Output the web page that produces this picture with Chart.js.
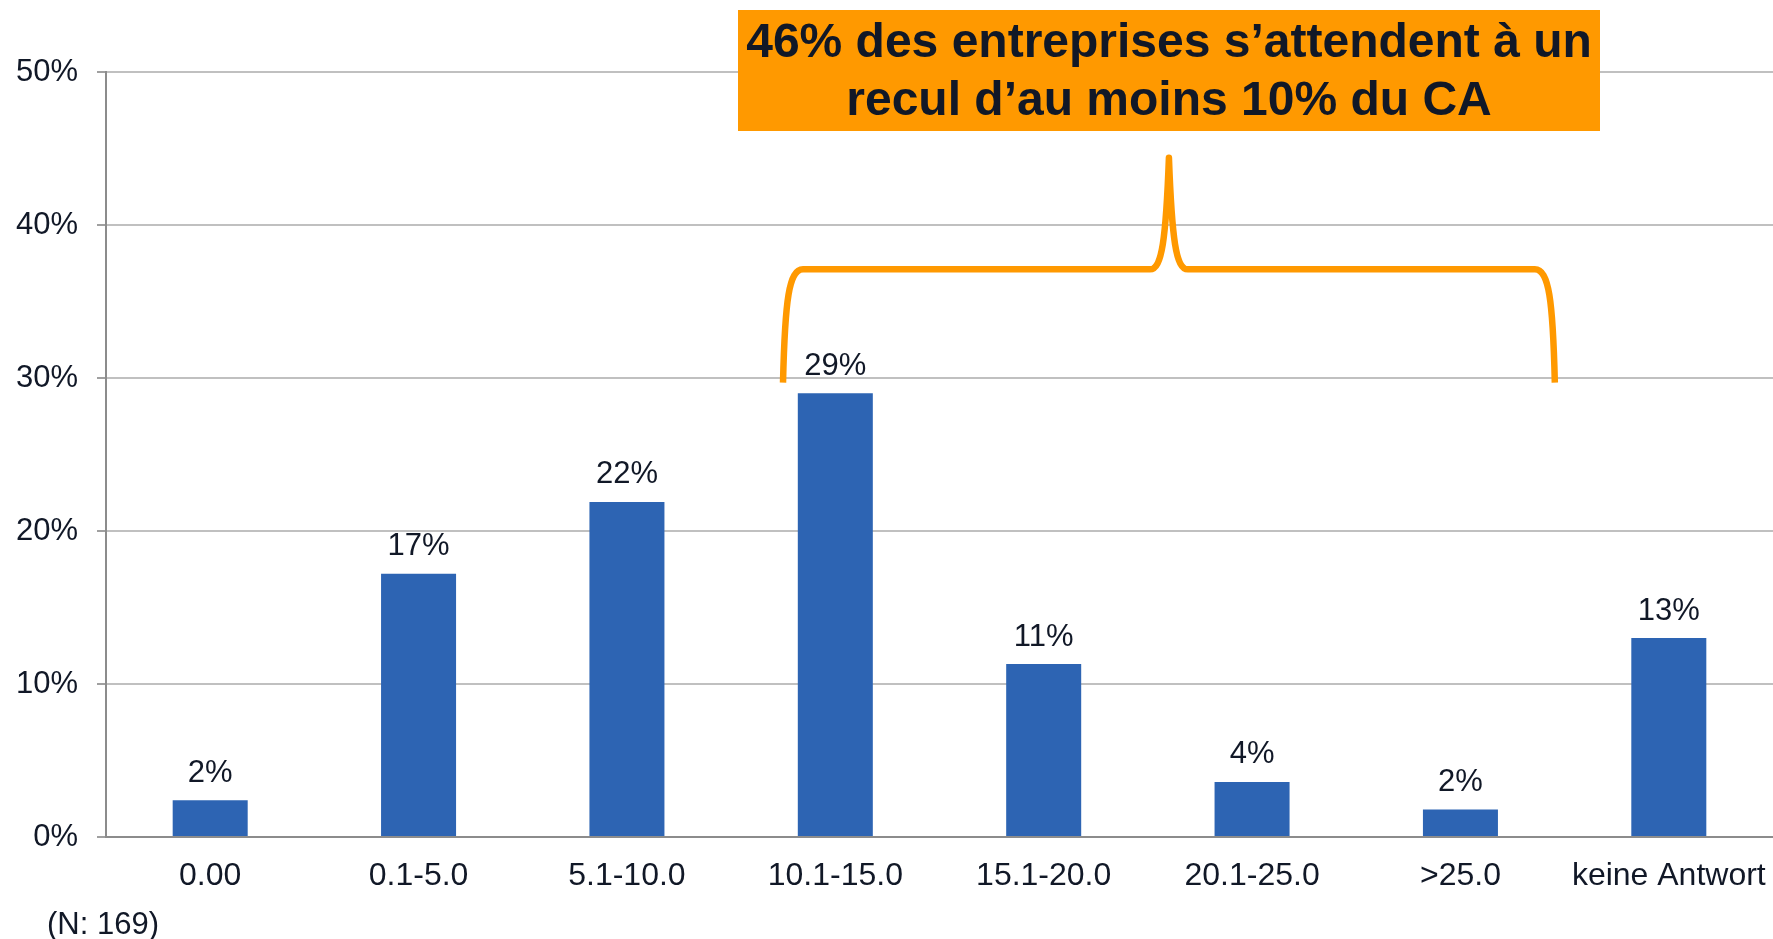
<!DOCTYPE html>
<html>
<head>
<meta charset="utf-8">
<script src="https://cdn.jsdelivr.net/npm/chart.js@4/dist/chart.umd.min.js"></script>
<style>
  html, body { margin: 0; padding: 0; background: #ffffff; }
  #wrap { width: 1773px; height: 939px; position: relative; }
</style>
</head>
<body>
<div id="wrap"><canvas id="c" width="1773" height="939"></canvas></div>
<script>
const categories = ['0.00', '0.1-5.0', '5.1-10.0', '10.1-15.0', '15.1-20.0', '20.1-25.0', '>25.0', 'keine Antwort'];
const shares = [2.4, 17.2, 21.9, 29.0, 11.3, 3.6, 1.8, 13.0];
const yTicks = [0, 10, 20, 30, 40, 50];
const calloutLines = ['46% des entreprises s’attendent à un', 'recul d’au moins 10% du CA'];
const footnote = '(N: 169)';

const TEXT = '#111827';
const FONT = '"Liberation Sans", Arial, sans-serif';
const ORANGE = '#FF9900';

const annotations = {
  id: 'annotations',
  afterDatasetsDraw(chart) {
    const ctx = chart.ctx;
    const x = chart.scales.x, y = chart.scales.y;
    const area = chart.chartArea;
    // data labels
    const meta = chart.getDatasetMeta(0);
    ctx.save();
    ctx.font = '31px ' + FONT;
    ctx.fillStyle = TEXT;
    ctx.textAlign = 'center';
    ctx.textBaseline = 'middle';
    meta.data.forEach((bar, i) => {
      ctx.fillText(Math.round(shares[i]) + '%', bar.x, bar.y - 27);
    });
    // brace
    const X = v => x.getPixelForValue(v);
    const Y = v => y.getPixelForValue(v);
    const xl = X(2.749), xr = X(6.453), xm = X(4.601);
    const yb = Y(29.7), yh = Y(37.1), ya = Y(44.4);
    ctx.strokeStyle = ORANGE;
    ctx.lineWidth = 6.5;
    ctx.lineCap = 'butt';
    ctx.lineJoin = 'round';
    ctx.beginPath();
    ctx.moveTo(xl, yb);
    ctx.bezierCurveTo(xl + 2, yh + 30, xl + 6, yh, xl + 20, yh);
    ctx.lineTo(xm - 19, yh);
    ctx.bezierCurveTo(xm - 7, yh, xm - 3, yh - 30, xm, ya);
    ctx.bezierCurveTo(xm + 3, yh - 30, xm + 7, yh, xm + 19, yh);
    ctx.lineTo(xr - 20, yh);
    ctx.bezierCurveTo(xr - 6, yh, xr - 2, yh + 30, xr, yb);
    ctx.stroke();
    // callout box
    const bx = area.left + 632, by = 10, bw = 862, bh = 121;
    ctx.fillStyle = ORANGE;
    ctx.fillRect(bx, by, bw, bh);
    ctx.fillStyle = TEXT;
    ctx.font = 'bold 48px ' + FONT;
    ctx.textAlign = 'center';
    ctx.textBaseline = 'alphabetic';
    ctx.fillText(calloutLines[0], bx + bw / 2, by + 47);
    ctx.fillText(calloutLines[1], bx + bw / 2, by + 105);
    // footnote
    ctx.font = '31px ' + FONT;
    ctx.textAlign = 'left';
    ctx.textBaseline = 'middle';
    ctx.fillText(footnote, 47, 925);
    ctx.restore();
  }
};

new Chart(document.getElementById('c'), {
  type: 'bar',
  data: {
    labels: categories,
    datasets: [{
      data: shares,
      backgroundColor: '#2D64B3',
      borderWidth: 0,
      barPercentage: 0.36,
      categoryPercentage: 1.0
    }]
  },
  options: {
    responsive: false,
    devicePixelRatio: 1,
    animation: false,
    events: [],
    layout: { padding: { top: 72, right: 0, bottom: 0, left: 0 } },
    plugins: {
      legend: { display: false },
      tooltip: { enabled: false },
      title: { display: false }
    },
    scales: {
      x: {
        grid: { display: false, drawTicks: false },
        border: { display: true, color: '#8C8C8C', width: 2 },
        ticks: { color: TEXT, font: { family: FONT, size: 32 }, padding: 20, maxRotation: 0, autoSkip: false },
        afterFit(s) { s.height = 102; s.paddingLeft = 0; s.paddingRight = 0; }
      },
      y: {
        min: 0,
        max: 50,
        afterBuildTicks(s) { s.ticks = yTicks.map(v => ({ value: v })); },
        grid: { color: '#C0C0C0', lineWidth: 2, tickLength: 9, tickColor: '#A0A0A0', drawTicks: true },
        border: { display: true, color: '#8C8C8C', width: 2 },
        ticks: { color: TEXT, font: { family: FONT, size: 31 }, padding: 19, callback: v => v + '%' },
        afterFit(s) { s.width = 106; }
      }
    }
  },
  plugins: [annotations]
});
</script>
</body>
</html>
